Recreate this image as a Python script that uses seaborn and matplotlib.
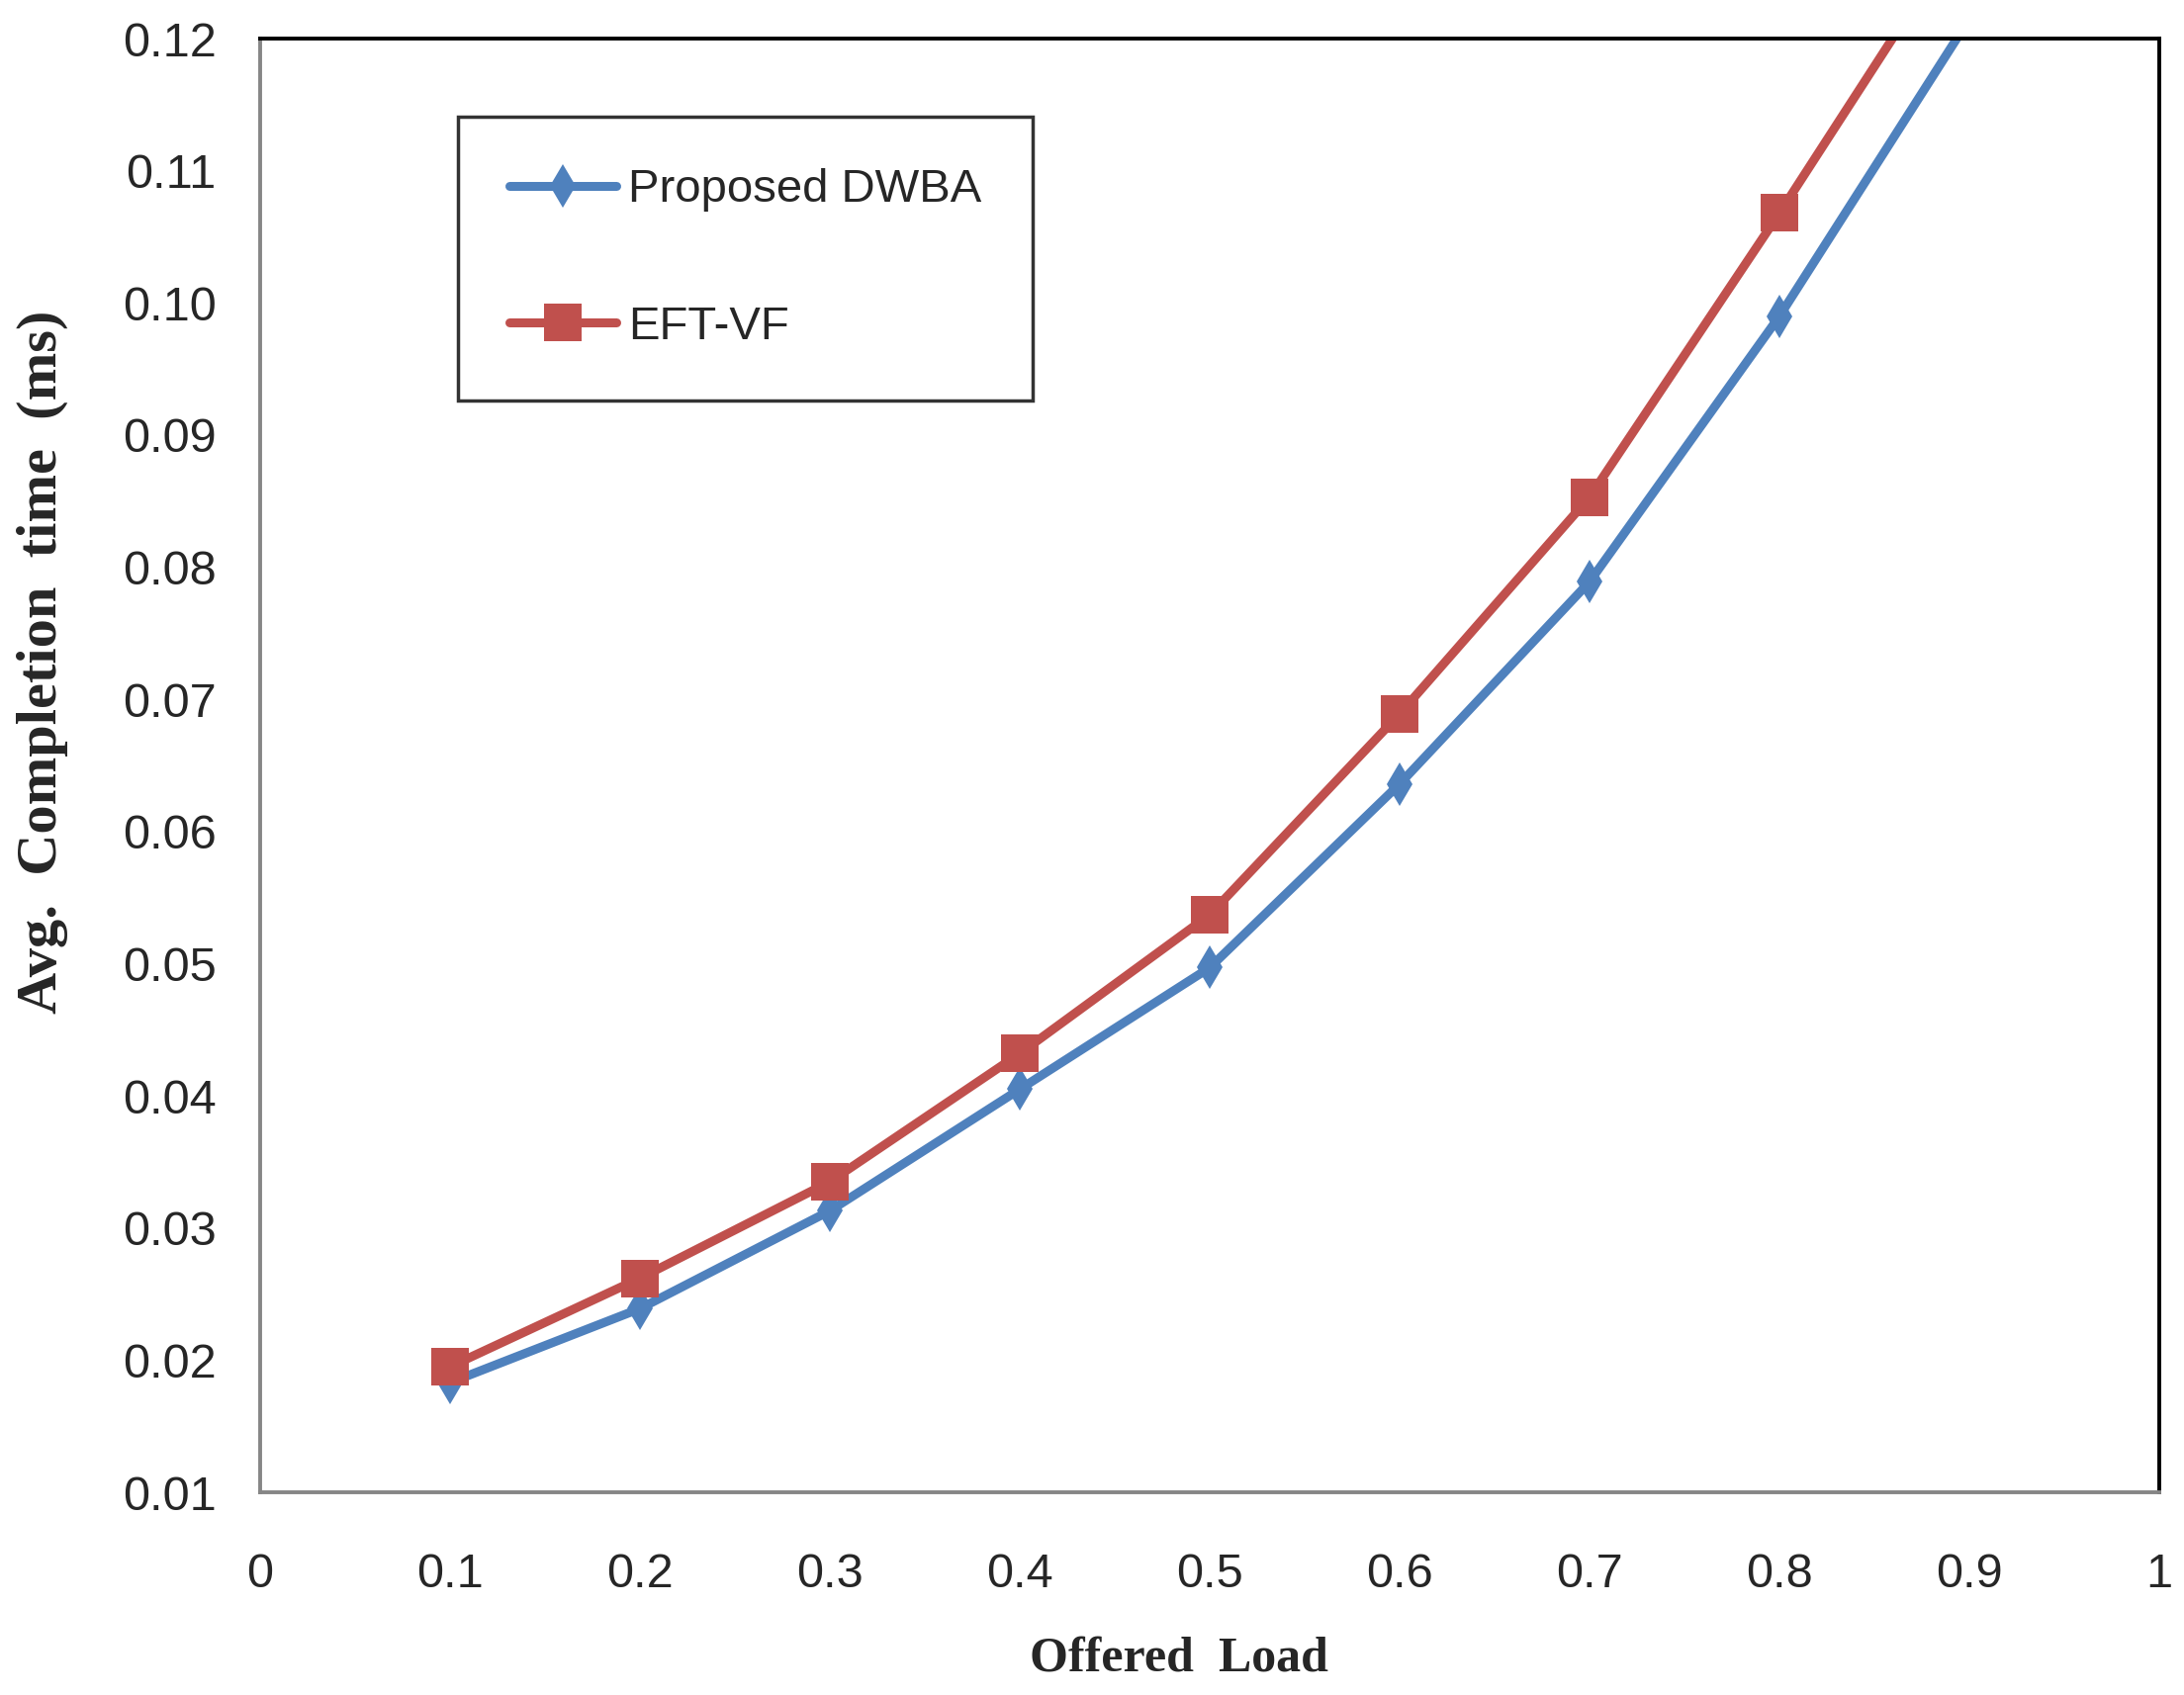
import matplotlib
matplotlib.use('Agg')
import matplotlib.pyplot as plt
import seaborn as sns
import pandas as pd
import numpy as np

# offered load and average completion time (ms)
offered_load = [0.1, 0.2, 0.3, 0.4, 0.5, 0.6, 0.7, 0.8, 0.9]
dwba_time = [0.0183, 0.0239, 0.0313, 0.0405, 0.0497, 0.0636, 0.0789, 0.0990, 0.1215]
eftvf_time = [0.0195, 0.0262, 0.0335, 0.0432, 0.0537, 0.0689, 0.0853, 0.1068, 0.1290]

x_ticks = [0, 0.1, 0.2, 0.3, 0.4, 0.5, 0.6, 0.7, 0.8, 0.9, 1]
x_tick_labels = ['0', '0.1', '0.2', '0.3', '0.4', '0.5', '0.6', '0.7', '0.8', '0.9', '1']
y_ticks = [0.01, 0.02, 0.03, 0.04, 0.05, 0.06, 0.07, 0.08, 0.09, 0.10, 0.11, 0.12]

sns.set_style('white')
plt.rcParams['font.family'] = ['Liberation Sans', 'DejaVu Sans']

fig = plt.figure(figsize=(22.08, 17.14), dpi=100)
ax = fig.add_axes([0.1191, 0.1196, 0.8696, 0.8576])

sns.lineplot(x=offered_load, y=dwba_time, ax=ax, color='#4F81BD', linewidth=6.5,
             marker='d', markersize=22, markeredgewidth=0, label='Proposed DWBA')
sns.lineplot(x=offered_load, y=eftvf_time, ax=ax, color='#C0504D', linewidth=6.5,
             marker='s', markersize=28, markeredgewidth=0, label='EFT-VF')

ax.set_xlim(0, 1)
ax.set_ylim(0.01, 0.12)
ax.set_xticks(x_ticks)
ax.set_xticklabels(x_tick_labels)
ax.set_yticks(y_ticks)
ax.set_yticklabels([f'{v:.2f}' for v in y_ticks])
ax.tick_params(axis='both', length=0, labelsize=35)
ax.tick_params(axis='y', pad=32)
ax.tick_params(axis='x', pad=44)

for side in ['left', 'bottom']:
    ax.spines[side].set_color('#868686')
    ax.spines[side].set_linewidth(2.8)
for side in ['top', 'right']:
    ax.spines[side].set_color('black')
    ax.spines[side].set_linewidth(2.8)

ax.set_xlabel('Offered  Load', fontsize=36, fontweight='bold',
              family='Liberation Serif', va='top')
ax.xaxis.set_label_coords(0.484, -0.099)
ax.set_ylabel('Avg.  Completion  time  (ms)', fontsize=42, fontweight='bold',
              family='Liberation Serif')
ax.yaxis.set_label_coords(-0.101, 0.571)

leg = ax.legend(loc='upper left', bbox_to_anchor=(0.104, 0.946), fontsize=34,
                frameon=True, fancybox=False, borderpad=1.1, labelspacing=2.0,
                handlelength=2.3, handletextpad=0.25, borderaxespad=0)
leg.get_frame().set_edgecolor('black')
leg.get_frame().set_linewidth(2.5)

fig.savefig('out.png', dpi=100)
